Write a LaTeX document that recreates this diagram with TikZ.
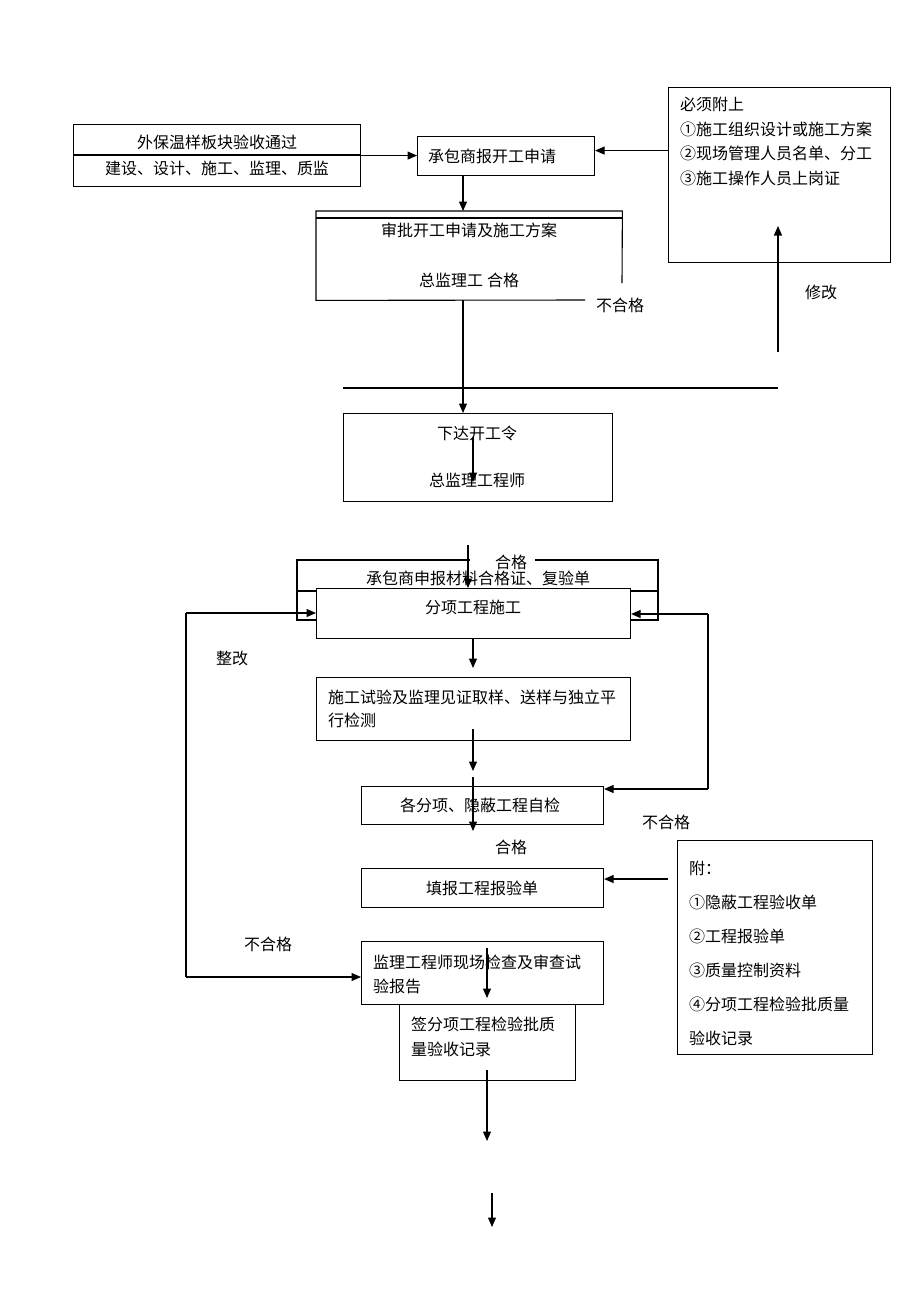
\documentclass[tikz,border=0pt]{standalone}
\usepackage{fontspec}
\setmainfont{Noto Sans CJK SC}
\usetikzlibrary{arrows.meta}
\newcommand{\fs}{\fontsize{16}{18}\selectfont}
\begin{document}
\begin{tikzpicture}[x=1pt,y=-1pt,
  box/.style={draw, line width=1.1pt, rectangle, inner sep=0pt, anchor=north west},
  frm/.style={rectangle, inner sep=0pt, anchor=north west},
  arr/.style={line width=1.1pt, -{Triangle[length=9.5pt,width=8pt]}},
  ln/.style={line width=1.1pt},
  txt/.style={inner sep=0pt, font=\fs},
  ltxt/.style={txt, anchor=west}]
\useasboundingbox (0,0) rectangle (920,1302);

% boxes
\node[box, minimum width=287pt, minimum height=62pt] (A) at (73,124) {};
\draw[ln] (73,155) -- (360,155);
\node[box, minimum width=177pt, minimum height=39pt] (B) at (417,136) {};
\node[box, minimum width=222pt, minimum height=175pt] (C) at (668,87) {};
\node[frm, minimum width=306pt, minimum height=89pt] (D) at (316,211) {};
\node[box, minimum width=269pt, minimum height=88pt] (E) at (343,413) {};
\node[box, minimum width=314pt, minimum height=50pt] (F) at (316,588) {};
\node[box, minimum width=314pt, minimum height=63pt] (G) at (316,677) {};
\node[box, minimum width=242pt, minimum height=38pt] (H) at (361,786) {};
\node[box, minimum width=242pt, minimum height=39pt] (I) at (361,868) {};
\node[box, minimum width=242pt, minimum height=63pt] (J) at (361,941) {};
\node[box, minimum width=195pt, minimum height=214pt] (K) at (677,840) {};
\node[box, minimum width=176pt, minimum height=76pt] (L) at (399,1004) {};

% box D (open right side)
\coordinate (Dr) at (622,283);
\coordinate (Db) at (585,300);
\draw[ln] (Dr) -- (D.north east) -- (D.north west) -- (D.south west) -- (Db);
\draw[ln] (316,218) -- (622,218);

% frame around F
\draw[ln] (470,560) -- (297,560) -- (297,620) -- (316,620);
\draw[ln] (297,591) -- (316,591);
\draw[ln] (535,560) -- (658,560) -- (658,620) -- (630,620);
\draw[ln] (630,591) -- (658,591);

% coordinates for connectors
\coordinate (xa) at (463,0);
\coordinate (xb) at (473,0);
\coordinate (xc) at (468,0);
\coordinate (hl) at (343,388);
\coordinate (hr) at (778,388);
\coordinate (u1) at (778,352);
\coordinate (u2) at (778,226);
\coordinate (e1) at (473,437);
\coordinate (e2) at (473,482);
\coordinate (f0) at (468,545);
\coordinate (g1) at (473,668);
\coordinate (h0) at (473,729);
\coordinate (h1) at (473,771);
\coordinate (h2) at (473,777);
\coordinate (h3) at (473,831);
\coordinate (j1) at (487,948);
\coordinate (j2) at (487,998);
\coordinate (l0) at (487,1070);
\coordinate (l1) at (487,1141);
\coordinate (m0) at (492,1193);
\coordinate (m1) at (492,1227);
\coordinate (lt) at (186,613);
\coordinate (lb) at (186,977);
\coordinate (rt) at (708,614);
\coordinate (rb) at (708,789);
\coordinate (kc) at (668,879);

% connectors
\draw[arr] (A.east) -- (A.east -| B.west);
\draw[arr] ([yshift=5.5pt]B.east -| C.west) -- ([yshift=5.5pt]B.east);
\draw[arr] (B.south -| xa) -- (D.north -| xa);
\draw[arr] (D.south -| xa) -- (E.north -| xa);
\draw[ln] (hl) -- (hr);
\draw[arr] (u1) -- (u2);
\draw[arr] (e1) -- (e2);
\draw[arr] (f0) -- (F.north -| xc);
\draw[arr] (F.south -| xb) -- (g1);
\draw[arr] (h0) -- (h1);
\draw[arr] (h2) -- (h3);
\draw[arr] (lt) -- (lt -| F.west);
\draw[ln] (lt) -- (lb);
\draw[arr] (lb) -- (lb -| J.west);
\draw[arr] (rt) -- (rt -| F.east);
\draw[ln] (rt) -- (rb);
\draw[arr] (rb) -- (rb -| H.east);
\draw[arr] (kc) -- (kc -| I.east);
\draw[arr] (j1) -- (j2);
\draw[arr] (l0) -- (l1);
\draw[arr] (m0) -- (m1);

% texts
\node[txt] (tA1) at (217,142) {外保温样板块验收通过};
\node[txt] (tA2) at (217,168) {建设、设计、施工、监理、质监};
\node[ltxt] (tB) at (428,156) {承包商报开工申请};
\node[ltxt] (tC1) at (680,104) {必须附上};
\node[ltxt] (tC2) at (680,129) {①施工组织设计或施工方案};
\node[ltxt] (tC3) at (680,153) {②现场管理人员名单、分工};
\node[ltxt] (tC4) at (680,178) {③施工操作人员上岗证};
\node[txt] (tD1) at (469,230) {审批开工申请及施工方案};
\node[txt] (tD2) at (469,280) {总监理工\hspace{4pt}合格};
\node[txt] (tN1) at (620,305) {不合格};
\node[txt] (tM) at (821,292) {修改};
\node[txt] (tE1) at (477,433) {下达开工令};
\node[txt] (tE2) at (477,480) {总监理工程师};
\node[txt] (tH1) at (511,562) {合格};
\node[txt] (tF0) at (478,578) {承包商申报材料合格证、复验单};
\node[txt] (tF) at (473,607) {分项工程施工};
\node[txt] (tZ) at (232,658) {整改};
\node[ltxt] (tG1) at (328,697) {施工试验及监理见证取样、送样与独立平};
\node[ltxt] (tG2) at (328,720) {行检测};
\node[txt] (tH) at (480,805) {各分项、隐蔽工程自检};
\node[txt] (tN2) at (666,822) {不合格};
\node[txt] (tH2) at (511,847) {合格};
\node[txt] (tI) at (482,888) {填报工程报验单};
\node[txt] (tN3) at (268,944) {不合格};
\node[ltxt] (tJ1) at (373,962) {监理工程师现场检查及审查试};
\node[ltxt] (tJ2) at (373,986) {验报告};
\node[ltxt] (tL1) at (411,1024) {签分项工程检验批质};
\node[ltxt] (tL2) at (411,1049) {量验收记录};
\node[ltxt] (tK1) at (689,868) {附：};
\node[ltxt] (tK2) at (689,902) {①隐蔽工程验收单};
\node[ltxt] (tK3) at (689,936) {②工程报验单};
\node[ltxt] (tK4) at (689,970) {③质量控制资料};
\node[ltxt] (tK5) at (689,1004) {④分项工程检验批质量};
\node[ltxt] (tK6) at (689,1038) {验收记录};
\end{tikzpicture}
\end{document}
